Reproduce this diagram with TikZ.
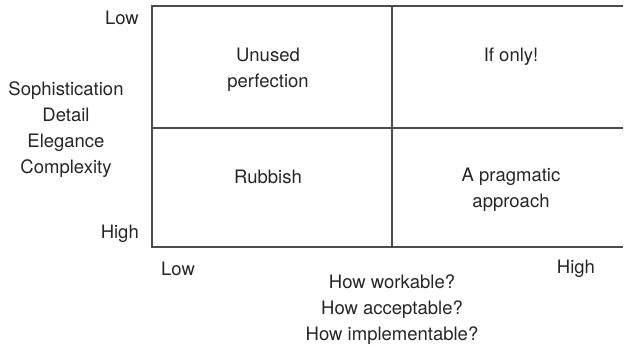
\documentclass[tikz,border=0pt]{standalone}
\usepackage{fontspec}
\setmainfont{TeX Gyre Heros}
\begin{document}
\begin{tikzpicture}[x=1pt,y=1pt,
    txt/.style={font=\fontsize{18.5}{26}\selectfont, text=black!85, align=center, inner sep=0pt},
    frame/.style={line width=1.5pt, draw=black!70}]
    \useasboundingbox (0,0) rectangle (624,-347);

    \coordinate (TL) at (152,-6);
    \coordinate (TR) at (623,-6);
    \coordinate (BL) at (152,-247);
    \coordinate (BR) at (623,-247);
    \coordinate (ML) at (152,-128);
    \coordinate (MR) at (623,-128);
    \coordinate (MT) at (392,-6);
    \coordinate (MB) at (392,-247);

    \draw[frame] (TR) -- (TL) -- (BL) -- (BR);
    \draw[frame] (ML) -- (MR);
    \draw[frame] (MT) -- (MB);

    \node[txt, anchor=east] (ylow) at (139,-18) {Low};
    \node[txt, anchor=east] (yhigh) at (139,-234) {High};
    \node[txt] (yaxis) at (66,-130) {Sophistication\\Detail\\Elegance\\Complexity};

    \node[txt] (unused) at (268,-70) {Unused\\perfection};
    \node[txt] (ifonly) at (511,-57) {If only!};
    \node[txt] (rubbish) at (268,-177) {Rubbish};
    \node[txt] (pragmatic) at (511,-190) {A pragmatic\\approach};

    \node[txt] (xlow) at (178,-269) {Low};
    \node[txt] (xhigh) at (576,-269) {High};
    \node[txt] (xaxis) at (392,-310) {How workable?\\How acceptable?\\How implementable?};
\end{tikzpicture}
\end{document}
